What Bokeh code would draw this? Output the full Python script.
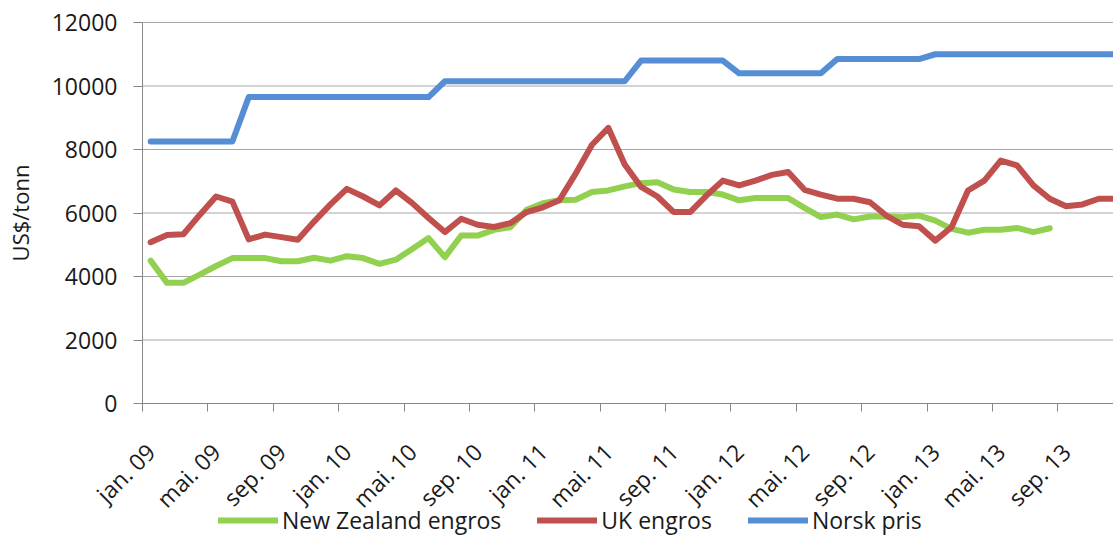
import math
from bokeh.plotting import figure
from bokeh.models import Range1d, FixedTicker, Legend, LegendItem, Whisker, ColumnDataSource
from bokeh.embed import file_html
from bokeh.resources import INLINE

# ---- data (monthly, jan. 09 .. des. 13) ----
month_names = ["jan", "feb", "mar", "apr", "mai", "jun", "jul", "aug", "sep", "okt", "nov", "des"]
years = ["09", "10", "11", "12", "13"]
months = [f"{m}. {y}" for y in years for m in month_names]

new_zealand = [4500, 3800, 3800, 4060, 4330, 4580, 4580, 4580, 4480, 4480, 4590, 4500,
               4640, 4580, 4400, 4530, 4870, 5210, 4610, 5290, 5290, 5470, 5550, 6100,
               6310, 6400, 6420, 6660, 6710, 6840, 6940, 6970, 6740, 6660, 6660, 6580,
               6400, 6470, 6470, 6470, 6160, 5870, 5950, 5800, 5890, 5890, 5870, 5920,
               5760, 5500, 5380, 5470, 5470, 5530, 5400, 5520]

uk = [5080, 5310, 5330, 5940, 6520, 6360, 5170, 5320, 5240, 5160, 5730, 6270,
      6760, 6520, 6240, 6710, 6310, 5840, 5400, 5820, 5630, 5560, 5680, 6030,
      6180, 6400, 7240, 8150, 8680, 7530, 6820, 6520, 6030, 6030, 6550, 7020,
      6870, 7020, 7200, 7290, 6730, 6580, 6450, 6450, 6340, 5920, 5630, 5580,
      5130, 5560, 6710, 7020, 7650, 7500, 6870, 6450, 6210, 6270, 6450, 6450]

norsk = [8250] * 6 + [9650] * 12 + [10150] * 12 + [10800] * 6 + [10400] * 6 + [10850] * 6 + [11000] * 12

series_names = ["New Zealand engros", "UK engros", "Norsk pris"]
y_ticks = [0, 2000, 4000, 6000, 8000, 10000, 12000]
label_every = 4

# ---- styling ----
FONT = "Open Sans"
TXT = "#1a1a1a"
AXC = "#868686"
GRID = "#a6a6a6"
colors = ["#92d050", "#c0504d", "#558ed5"]
LW = 6

# The frame covers the whole figure; both axes are pinned inside it
# (value axis at the first category boundary, category axis at y = 0),
# which leaves room for all texts and the legend without clipping.
X_LEFT, X_RIGHT = -0.5, 58.9      # plotted category span
X_MIN = -9.185                     # room on the left for the value axis texts
Y_TOP = 12000                      # top of the value axis
Y_MIN, Y_MAX = -4189, 12693        # room below for labels/legend, above for the top label

p = figure(width=1113, height=536,
           x_range=Range1d(X_MIN, X_RIGHT), y_range=Range1d(Y_MIN, Y_MAX),
           output_backend="svg", toolbar_location=None,
           min_border_left=0, min_border_right=0,
           min_border_top=0, min_border_bottom=0)
p.outline_line_color = None
p.background_fill_color = "white"
p.border_fill_color = "white"
p.grid.visible = False

# horizontal grid lines, limited to the plotted span
grid_src = ColumnDataSource(dict(base=y_ticks,
                                 lower=[X_LEFT] * len(y_ticks),
                                 upper=[X_RIGHT] * len(y_ticks)))
grid = Whisker(source=grid_src, base="base", lower="lower", upper="upper",
               dimension="width", line_color=GRID, line_width=1,
               lower_head=None, upper_head=None, level="underlay")
p.add_layout(grid)

renderers = []
for vals, col in zip([new_zealand, uk, norsk], colors):
    xs = list(range(len(vals)))
    r = p.line(xs, vals, line_color=col, line_width=LW, line_join="round", line_cap="round")
    renderers.append(r)

# y axis
ya = p.yaxis[0]
ya.fixed_location = X_LEFT
ya.ticker = FixedTicker(ticks=y_ticks)
ya.bounds = (0, Y_TOP)
ya.axis_line_color = AXC
ya.major_tick_line_color = AXC
ya.major_tick_in = 0
ya.major_tick_out = 9
ya.minor_tick_line_color = None
ya.major_label_text_font = FONT
ya.major_label_text_font_size = "23px"
ya.major_label_text_color = TXT
ya.major_label_standoff = 16
ya.axis_label = "US$/tonn"
ya.axis_label_text_font = FONT
ya.axis_label_text_font_size = "22px"
ya.axis_label_text_font_style = "normal"
ya.axis_label_text_color = TXT
ya.axis_label_standoff = 14

# x axis: labels at category centres, tick marks at category boundaries
n = len(months)
label_pos = list(range(0, n, label_every))
bound_pos = [i - 0.5 for i in range(0, n, label_every)]
xa = p.xaxis[0]
xa.fixed_location = 0
xa.bounds = (X_LEFT, X_RIGHT)
xa.ticker = FixedTicker(ticks=label_pos, minor_ticks=bound_pos)
xa.major_label_overrides = {i: months[i] for i in label_pos}
xa.axis_line_color = AXC
xa.major_tick_line_color = None
xa.major_tick_in = 0
xa.major_tick_out = 0
xa.minor_tick_line_color = AXC
xa.minor_tick_in = 0
xa.minor_tick_out = 8
xa.major_label_orientation = math.pi / 4
xa.major_label_text_font = FONT
xa.major_label_text_font_size = "23px"
xa.major_label_text_color = TXT
xa.major_label_standoff = 36

# legend
legend = Legend(items=[LegendItem(label=nm, renderers=[r]) for nm, r in zip(series_names, renderers)],
                orientation="horizontal", location=(218, 0),
                label_text_font=FONT, label_text_font_size="23px", label_text_color=TXT,
                glyph_width=60, glyph_height=28, label_standoff=4, spacing=36,
                padding=0, margin=0, border_line_color=None, background_fill_alpha=0)
p.add_layout(legend, "center")

open("out.html", "w").write(file_html(p, INLINE))
